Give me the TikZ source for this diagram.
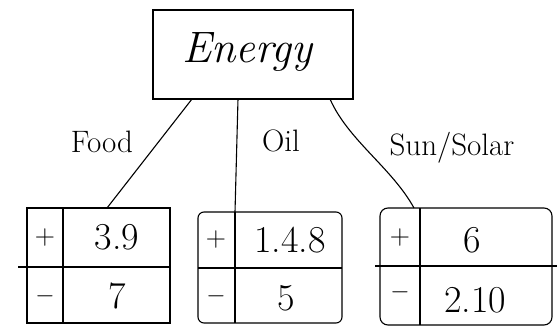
\documentclass[tikz,border=0pt]{standalone}
\usetikzlibrary{calc}
\begin{document}
\begin{tikzpicture}[x=1pt,y=-1pt,
  ln/.style={line width=1.1pt,black},
  boxst/.style={draw,line width=1.1pt,inner sep=0pt,outer sep=0pt},
  big/.style={font=\fontsize{38}{38}\selectfont},
  sign/.style={font=\fontsize{28}{28}\selectfont},
  lab/.style={font=\fontsize{31}{31}\selectfont}]
\useasboundingbox (0,0) rectangle (557,329);
% root
\node[boxst,minimum width=200pt,minimum height=89pt] (root) at (253,54.5) {};
\node[font=\fontsize{44}{44}\itshape\selectfont] (rt) at (247,52) {Energy};
% tables
\node[boxst,minimum width=143pt,minimum height=115pt] (t1) at (98.5,265.5) {};
\node[boxst,rounded corners=6pt,minimum width=144pt,minimum height=111pt] (t2) at (270,267.5) {};
\node[boxst,rounded corners=8pt,minimum width=172pt,minimum height=117pt] (t3) at (466,266.5) {};
% inner lines
\coordinate (h1a) at (18,267); \coordinate (h1b) at (170,267);
\draw[ln] (h1a) -- (h1b);
\draw[ln] ($(t1.north west)+(36,0)$) -- ($(t1.south west)+(36,0)$);
\draw[ln] (t2.west |- 0,268) -- (t2.east |- 0,268);
\draw[ln] ($(t2.north west)+(37,0)$) -- ($(t2.south west)+(37,0)$);
\coordinate (h3b) at (557,266);
\draw[ln] (375,266) -- (h3b);
\draw[ln] ($(t3.north west)+(40,0)$) -- ($(t3.south west)+(40,0)$);
% connectors
\draw[ln] ($(root.south west)+(39,0)$) -- ($(t1.north west)+(80,0)$);
\draw[ln] ($(root.south west)+(85,0)$) -- ($(t2.north west)+(37,0)$);
\draw[ln] ($(root.south west)+(177,0)$) .. controls (348,140) and (392,168) .. ($(t3.north west)+(34,0)$);
% edge labels
\node[lab] (lf) at (102,142) {Food};
\node[lab] (lo) at (281,141) {Oil};
\node[lab] (ls) at (452,148) {Sun/Solar};
% cell texts
\node[sign] (p1) at (45,238) {+};
\node[sign] (m1) at (45,296) {$-$};
\node[big] (v1a) at (117,237) {3.9};
\node[big] (v1b) at (117,296) {7};
\node[sign] (p2) at (216,240) {+};
\node[sign] (m2) at (216,296) {$-$};
\node[big] (v2a) at (290,240) {1.4.8};
\node[big] (v2b) at (286,298) {5};
\node[sign] (p3) at (400,238) {+};
\node[sign] (m3) at (400,292) {$-$};
\node[big] (v3a) at (472,240) {6};
\node[big] (v3b) at (475,300) {2.10};
\end{tikzpicture}
\end{document}
